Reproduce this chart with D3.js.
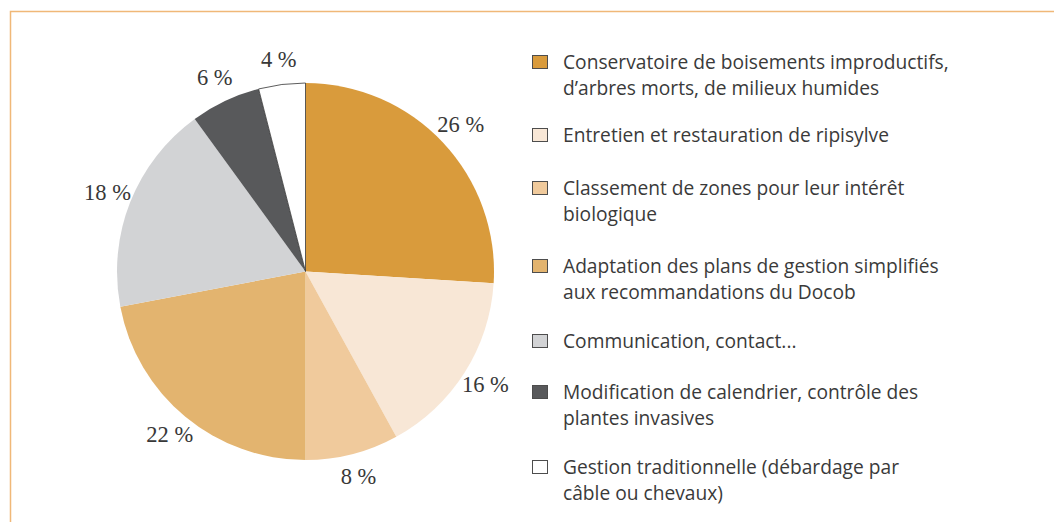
<!DOCTYPE html>
<html>
<head>
<meta charset="utf-8">
<script src="https://cdn.jsdelivr.net/npm/d3@7"></script>
<style>
  html, body { margin: 0; padding: 0; background: #fff; }
  svg { display: block; }
</style>
</head>
<body>
<svg id="chart" width="1054" height="522"></svg>
<script>
const categories = [
  ["Conservatoire de boisements improductifs,", "d’arbres morts, de milieux humides"],
  ["Entretien et restauration de ripisylve"],
  ["Classement de zones pour leur intérêt", "biologique"],
  ["Adaptation des plans de gestion simplifiés", "aux recommandations du Docob"],
  ["Communication, contact..."],
  ["Modification de calendrier, contrôle des", "plantes invasives"],
  ["Gestion traditionnelle (débardage par", "câble ou chevaux)"]
];
const values = [26, 16, 8, 22, 18, 6, 4];
const colors = ["#d99b3c", "#f8e7d6", "#f0ca9c", "#e3b46f", "#d2d3d5", "#58595b", "#ffffff"];

const svg = d3.select("#chart");
const W = 1054, H = 522;

// frame
svg.append("path")
  .attr("d", `M10.5,${H} L10.5,11.5 L${W},11.5`)
  .attr("fill", "none")
  .attr("stroke", "#f0b878")
  .attr("stroke-width", 1.5);

const cx = 305.5, cy = 271.5, R = 188.5;
const g = svg.append("g").attr("transform", `translate(${cx},${cy})`);

const pie = d3.pie().sort(null).value(d => d)(values);
const arc = d3.arc().innerRadius(0).outerRadius(R);
const labelArc = d3.arc().innerRadius(213).outerRadius(213);

g.selectAll("path.slice").data(pie).enter().append("path")
  .attr("class", "slice")
  .attr("d", arc)
  .attr("fill", (d, i) => colors[i])
  .attr("stroke", (d, i) => i === values.length - 1 ? "#333" : "none")
  .attr("stroke-width", 0.8);

g.selectAll("text.lbl").data(pie).enter().append("text")
  .attr("class", "lbl")
  .attr("transform", d => {
    const c = labelArc.centroid(d);
    return `translate(${c[0]},${c[1] - 1})`;
  })
  .attr("text-anchor", "middle")
  .attr("dominant-baseline", "central")
  .attr("font-family", "Liberation Serif, serif")
  .attr("font-size", 22.5)
  .attr("fill", "#383838")
  .text(d => d.value + " %");

// legend
const legendY = [62, 135, 188, 266, 341, 392, 467];
const lg = svg.append("g");
categories.forEach((lines, i) => {
  const row = lg.append("g").attr("transform", `translate(0,${legendY[i]})`);
  row.append("rect")
    .attr("x", 532.5).attr("y", -6.5)
    .attr("width", 15).attr("height", 13)
    .attr("fill", colors[i])
    .attr("stroke", "#4d4d4d").attr("stroke-width", 1);
  const t = row.append("text")
    .attr("x", 563)
    .attr("font-family", "Open Sans, sans-serif")
    .attr("font-size", 19.2)
    .attr("fill", "#3a3a3a");
  lines.forEach((ln, j) => {
    t.append("tspan").attr("x", 563).attr("y", j * 26 + 6.5).text(ln);
  });
});
</script>
</body>
</html>
